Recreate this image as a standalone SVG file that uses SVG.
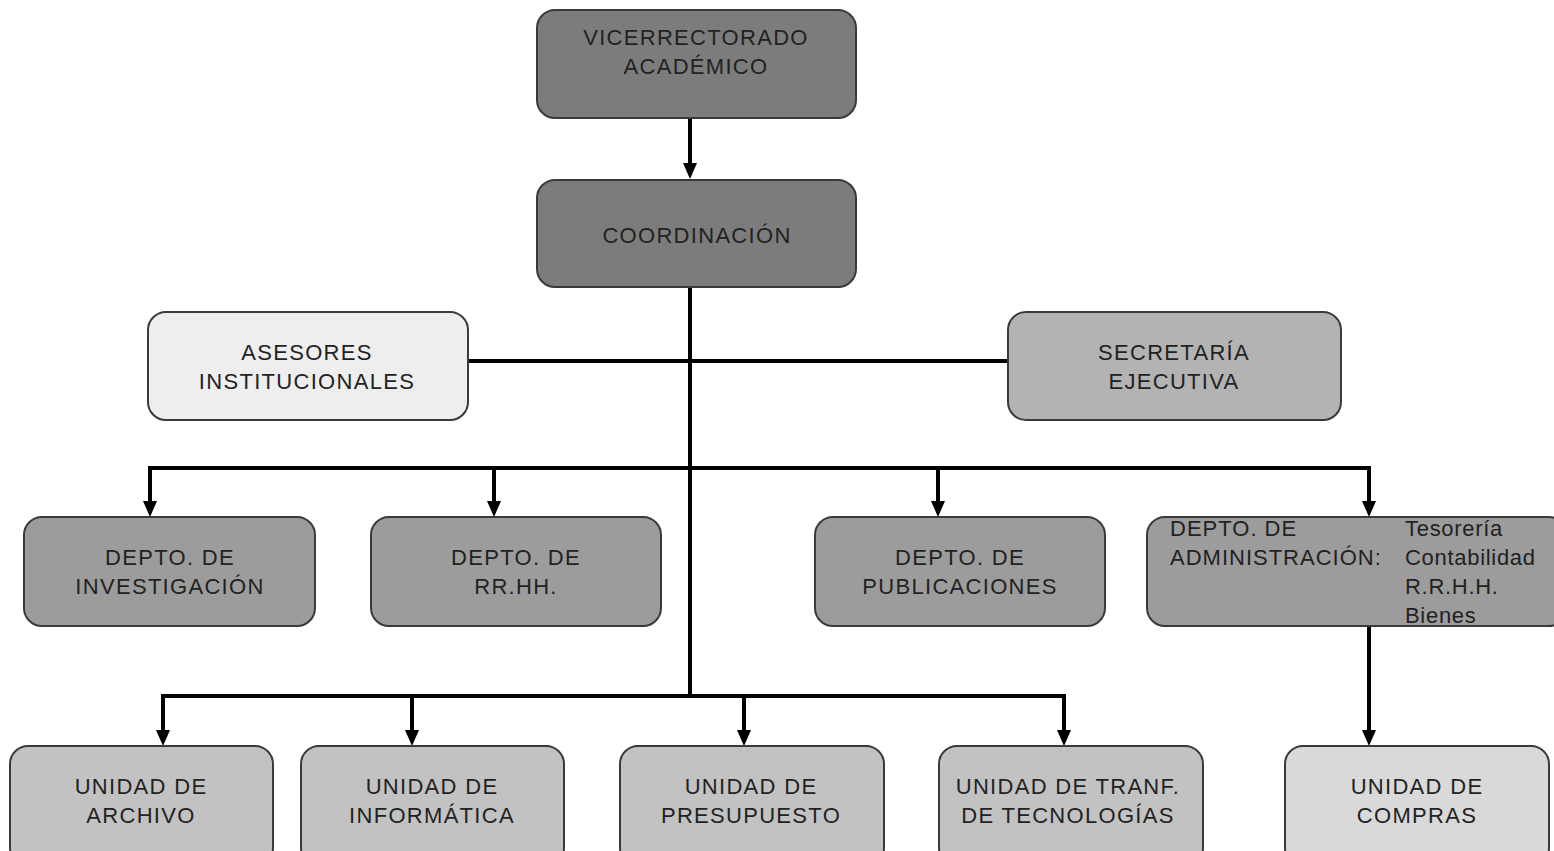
<svg xmlns="http://www.w3.org/2000/svg" width="1554" height="851" viewBox="0 0 1554 851">
<defs>
<marker id="ah" markerWidth="4" markerHeight="3.5" refX="0" refY="1.75" orient="auto" markerUnits="strokeWidth" viewBox="0 0 4 3.5">
<path d="M0,0 L4,1.75 L0,3.5 Z" fill="#000"/>
</marker>
</defs>
<style>
.box{stroke:#3a3a3a;stroke-width:2}
.d1{fill:#7c7c7c}
.d2{fill:#9c9c9c}
.d3{fill:#c2c2c2}
.lt{fill:#d9d9d9}
.ws{fill:#eeeeee}
.sec{fill:#b3b3b3}
text{font-family:"Liberation Sans",Arial,sans-serif;font-size:22px;fill:#222;letter-spacing:1.3px}
.c{text-anchor:middle}
.r{letter-spacing:0.7px}
.ln{stroke:#000;stroke-width:4;fill:none}
.ar{stroke:#000;stroke-width:4;fill:none;marker-end:url(#ah)}
</style>
<rect width="1554" height="851" fill="#fff"/>
<g id="connectors">
<line class="ar" x1="690" y1="118" x2="690" y2="163"/>
<line class="ln" x1="690" y1="287" x2="690" y2="698"/>
<line class="ln" x1="468" y1="361" x2="1008" y2="361"/>
<polyline class="ln" points="150,468 1369,468"/>
<line class="ar" x1="150" y1="466" x2="150" y2="501"/>
<line class="ar" x1="494" y1="468" x2="494" y2="501"/>
<line class="ar" x1="938" y1="468" x2="938" y2="501"/>
<line class="ar" x1="1369" y1="466" x2="1369" y2="501"/>
<polyline class="ln" points="163,696 1064,696"/>
<line class="ar" x1="163" y1="694" x2="163" y2="730"/>
<line class="ar" x1="412" y1="696" x2="412" y2="730"/>
<line class="ar" x1="744" y1="696" x2="744" y2="730"/>
<line class="ar" x1="1064" y1="694" x2="1064" y2="730"/>
<line class="ar" x1="1369" y1="626" x2="1369" y2="730"/>
</g>
<g id="vicerrectorado">
<rect class="box d1" x="537" y="10" width="319" height="108" rx="18"/>
<text class="c" x="696" y="45">VICERRECTORADO</text>
<text class="c" x="696" y="74">ACADÉMICO</text>
</g>
<g id="coordinacion">
<rect class="box d1" x="537" y="180" width="319" height="107" rx="18"/>
<text class="c" x="697" y="243">COORDINACIÓN</text>
</g>
<g id="asesores">
<rect class="box ws" x="148" y="312" width="320" height="108" rx="18"/>
<text class="c" x="307" y="360">ASESORES</text>
<text class="c" x="307" y="389">INSTITUCIONALES</text>
</g>
<g id="secretaria">
<rect class="box sec" x="1008" y="312" width="333" height="108" rx="18"/>
<text class="c" x="1174" y="360">SECRETARÍA</text>
<text class="c" x="1174" y="389">EJECUTIVA</text>
</g>
<g id="investigacion">
<rect class="box d2" x="24" y="517" width="291" height="109" rx="18"/>
<text class="c" x="170" y="565">DEPTO. DE</text>
<text class="c" x="170" y="594">INVESTIGACIÓN</text>
</g>
<g id="rrhh">
<rect class="box d2" x="371" y="517" width="290" height="109" rx="18"/>
<text class="c" x="516" y="565">DEPTO. DE</text>
<text class="c" x="516" y="594">RR.HH.</text>
</g>
<g id="publicaciones">
<rect class="box d2" x="815" y="517" width="290" height="109" rx="18"/>
<text class="c" x="960" y="565">DEPTO. DE</text>
<text class="c" x="960" y="594">PUBLICACIONES</text>
</g>
<g id="administracion">
<rect class="box d2" x="1147" y="517" width="420" height="109" rx="18"/>
<text x="1170" y="536" style="letter-spacing:1px">DEPTO. DE</text>
<text x="1170" y="565" style="letter-spacing:1px">ADMINISTRACIÓN:</text>
<text class="r" x="1405" y="536">Tesorería</text>
<text class="r" x="1405" y="565">Contabilidad</text>
<text class="r" x="1405" y="594">R.R.H.H.</text>
<text class="r" x="1405" y="623">Bienes</text>
</g>
<g id="archivo">
<rect class="box d3" x="10" y="746" width="263" height="120" rx="18"/>
<text class="c" x="141" y="794">UNIDAD DE</text>
<text class="c" x="141" y="823">ARCHIVO</text>
</g>
<g id="informatica">
<rect class="box d3" x="301" y="746" width="263" height="120" rx="18"/>
<text class="c" x="432" y="794">UNIDAD DE</text>
<text class="c" x="432" y="823">INFORMÁTICA</text>
</g>
<g id="presupuesto">
<rect class="box d3" x="620" y="746" width="264" height="120" rx="18"/>
<text class="c" x="751" y="794">UNIDAD DE</text>
<text class="c" x="751" y="823">PRESUPUESTO</text>
</g>
<g id="tecnologias">
<rect class="box d3" x="939" y="746" width="264" height="120" rx="18"/>
<text class="c" x="1068" y="794">UNIDAD DE TRANF.</text>
<text class="c" x="1068" y="823">DE TECNOLOGÍAS</text>
</g>
<g id="compras">
<rect class="box lt" x="1285" y="746" width="264" height="120" rx="18"/>
<text class="c" x="1417" y="794">UNIDAD DE</text>
<text class="c" x="1417" y="823">COMPRAS</text>
</g>
</svg>
